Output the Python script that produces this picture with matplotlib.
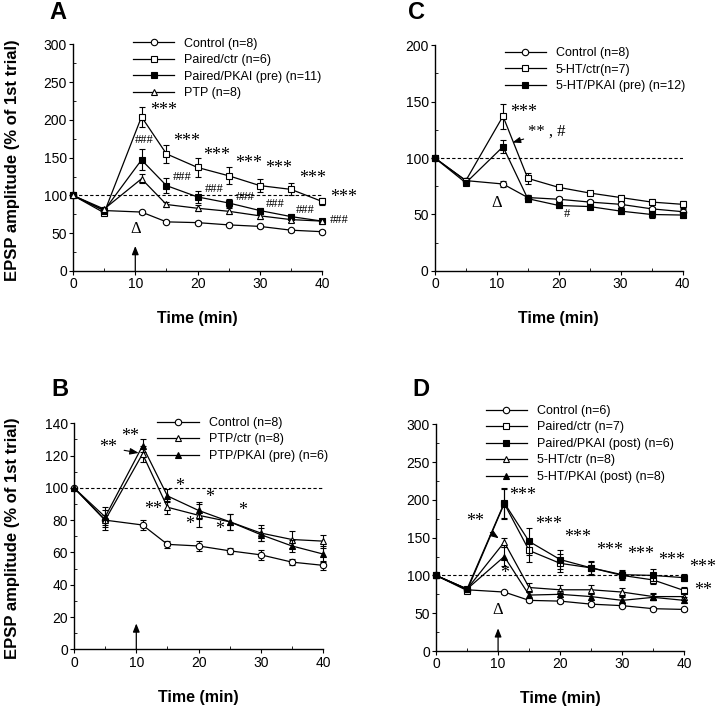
import numpy as np
import matplotlib
matplotlib.use("Agg")
import matplotlib.pyplot as plt
from matplotlib.ticker import MultipleLocator

plt.rcParams['font.family'] = ['Liberation Sans', 'DejaVu Sans']

# sampling times (min)
t = [0, 5, 11, 15, 20, 25, 30, 35, 40]

# Panel A
a_control = [100, 80, 78, 65, 64, 61, 59, 54, 52]
a_control_err = [0, 2, 2, 2, 2, 2, 2, 2, 2]
a_paired_ctr = [100, 77, 204, 155, 137, 126, 113, 108, 92]
a_paired_ctr_err = [0, 3, 13, 12, 12, 11, 9, 8, 5]
a_paired_pkai = [100, 80, 147, 113, 98, 90, 80, 72, 66]
a_paired_pkai_err = [0, 3, 14, 10, 8, 5, 4, 3, 3]
a_ptp = [100, 82, 122, 88, 83, 79, 73, 68, 66]
a_ptp_err = [0, 3, 6, 3, 4, 4, 4, 3, 3]

# Panel B
b_control = [100, 80, 77, 65, 64, 61, 58.5, 54, 52]
b_control_err = [0, 3, 3, 2, 3, 2, 3, 2, 3]
b_ptp_ctr = [100, 80, 121, 88, 83, 79, 72, 68, 67]
b_ptp_ctr_err = [0, 6, 5, 4, 7, 5, 5, 5, 4]
b_ptp_pkai = [100, 82, 126, 95, 86, 79, 71, 64, 59]
b_ptp_pkai_err = [0, 6, 4, 4, 5, 5, 4, 4, 5]

# Panel C
c_control = [100, 80, 77, 65, 63.5, 61, 59, 55, 52.5]
c_control_err = [0, 2, 3, 2, 2, 2, 2, 2, 2]
c_5ht_ctr = [100, 80, 137, 82, 74, 69, 65, 61, 59]
c_5ht_ctr_err = [0, 2, 11, 5, 2, 2, 2, 3, 3]
c_5ht_pkai = [100, 78, 110, 64, 58, 57, 53, 50, 49.5]
c_5ht_pkai_err = [0, 2, 6, 3, 2, 2, 3, 3, 3]

# Panel D
d_control = [100, 81, 78, 67, 66, 62, 60, 56, 55]
d_control_err = [0, 2, 2, 2, 2, 2, 2, 2, 2]
d_paired_ctr = [100, 80, 195, 133, 116, 110, 100, 94, 80]
d_paired_ctr_err = [0, 3, 20, 15, 12, 8, 6, 6, 5]
d_paired_pkai = [100, 82, 196, 145, 121, 110, 101, 100, 97]
d_paired_pkai_err = [0, 3, 20, 18, 13, 9, 6, 8, 5]
d_5ht_ctr = [100, 82, 144, 84, 81, 81, 78, 72, 72]
d_5ht_ctr_err = [0, 3, 6, 6, 6, 6, 5, 5, 5]
d_5ht_pkai = [100, 82, 125, 74, 75, 72, 67, 71, 67]
d_5ht_pkai_err = [0, 3, 12, 4, 4, 4, 4, 4, 4]

# marker styles: (marker, facecolor)
STY = {
    'circ': ('o', 'white'),
    'sq_open': ('s', 'white'),
    'sq_fill': ('s', 'black'),
    'tri_open': ('^', 'white'),
    'tri_fill': ('^', 'black'),
}

SERIF = ['Liberation Serif', 'DejaVu Serif']

fig = plt.figure(figsize=(7.2, 7.09), dpi=100)
axA = fig.add_axes([0.1014, 0.6178, 0.346, 0.3197])
axC = fig.add_axes([0.6040, 0.6178, 0.344, 0.3187])
axB = fig.add_axes([0.1028, 0.0842, 0.346, 0.3188])
axD = fig.add_axes([0.6056, 0.0818, 0.3447, 0.3198])


def series(ax, y, err, style, label, z):
    m, fc = STY[style]
    ms = 4.8 if m == 's' else 4.6
    eb = ax.errorbar(t, y, yerr=err, color='black', lw=0.9, marker=m, ms=ms,
                     mfc=fc, mec='black', mew=0.8, elinewidth=0.8, capsize=2,
                     capthick=0.8, clip_on=False, zorder=z)
    for a in eb.lines[1] + eb.lines[2]:
        a.set_clip_on(False)
    eb.lines[0].set_label(label)
    return eb.lines[0]


def style_axes(ax, ymax, ymaj, ymin):
    ax.set_xlim(0, 40)
    ax.set_ylim(0, ymax)
    for s in ['top', 'right']:
        ax.spines[s].set_visible(False)
    for s in ['left', 'bottom']:
        ax.spines[s].set_linewidth(1.0)
    ax.xaxis.set_major_locator(MultipleLocator(10))
    ax.xaxis.set_minor_locator(MultipleLocator(5))
    ax.yaxis.set_major_locator(MultipleLocator(ymaj))
    ax.yaxis.set_minor_locator(MultipleLocator(ymin))
    ax.tick_params(which='major', direction='out', length=3, width=0.8,
                   labelsize=10, pad=1.5)
    ax.tick_params(which='minor', direction='in', length=2, width=0.6)
    ax.axhline(100, color='black', lw=0.8, ls=(0, (3, 2)), zorder=1)
    ax.set_xlabel('Time (min)', fontsize=11.5, fontweight='bold')
    ax.xaxis.set_label_coords(0.5, -0.178)


def legend(ax, handles, x, y):
    ax.legend(handles=handles, loc='upper left', bbox_to_anchor=(x, y),
              frameon=False, fontsize=9, numpoints=1, handlelength=3.3,
              handletextpad=0.8, labelspacing=0.36, borderaxespad=0,
              borderpad=0)


def stars(ax, items, size, family=SERIF):
    for x, y, s in items:
        ax.text(x, y, s, fontsize=size, family=family, ha='center',
                va='center', clip_on=False)


def stim_arrow(ax, top):
    ax.annotate('', xy=(10, top), xytext=(10, 0),
                arrowprops=dict(arrowstyle='-|>,head_length=0.5,head_width=0.2',
                                color='black', lw=0.9, shrinkA=0, shrinkB=0))


# ---- A ----
style_axes(axA, 300, 50, 25)
h = [series(axA, a_control, a_control_err, 'circ', 'Control (n=8)', 4),
     series(axA, a_paired_ctr, a_paired_ctr_err, 'sq_open', 'Paired/ctr (n=6)', 5),
     series(axA, a_paired_pkai, a_paired_pkai_err, 'sq_fill', 'Paired/PKAI (pre) (n=11)', 6),
     series(axA, a_ptp, a_ptp_err, 'tri_open', 'PTP (n=8)', 7)]
legend(axA, h, 0.241, 1.03)
stars(axA, [(14.5, 212, '***'), (18.3, 172, '***'), (23.1, 153, '***'),
            (28.2, 142, '***'), (33.0, 135, '***'), (38.4, 122, '***'),
            (43.5, 97, '***')], 13)
stars(axA, [(11.4, 173, '###'), (17.5, 124, '###'), (22.6, 108, '###'),
            (27.7, 98, '###'), (32.5, 89, '###'), (37.3, 81, '###'),
            (42.8, 68, '###')], 9)
axA.text(10, 56, '\u0394', fontsize=12, family=SERIF, ha='center', va='center')
stim_arrow(axA, 33)
axA.set_ylabel('EPSP amplitude (% of 1st trial)', fontsize=12, fontweight='bold')
axA.yaxis.set_label_coords(-0.214, 0.49)

# ---- C ----
style_axes(axC, 200, 50, 25)
h = [series(axC, c_control, c_control_err, 'circ', 'Control (n=8)', 4),
     series(axC, c_5ht_ctr, c_5ht_ctr_err, 'sq_open', '5-HT/ctr(n=7)', 5),
     series(axC, c_5ht_pkai, c_5ht_pkai_err, 'sq_fill', '5-HT/PKAI (pre) (n=12)', 6)]
legend(axC, h, 0.282, 0.99)
stars(axC, [(14.3, 140, '***')], 13)
axC.annotate('** , #', xy=(12.1, 113), xytext=(15.0, 123), fontsize=12,
             family=SERIF, ha='left', va='center',
             arrowprops=dict(arrowstyle='-|>,head_length=0.4,head_width=0.15',
                             color='black', lw=0.8, shrinkA=1, shrinkB=2))
stars(axC, [(21.3, 50, '#')], 9)
axC.text(10, 60, '\u0394', fontsize=12, family=SERIF, ha='center', va='center')

# ---- B ----
style_axes(axB, 140, 20, 10)
h = [series(axB, b_control, b_control_err, 'circ', 'Control (n=8)', 4),
     series(axB, b_ptp_ctr, b_ptp_ctr_err, 'tri_open', 'PTP/ctr (n=8)', 5),
     series(axB, b_ptp_pkai, b_ptp_pkai_err, 'tri_fill', 'PTP/PKAI (pre) (n=6)', 6)]
legend(axB, h, 0.335, 1.028)
stars(axB, [(9.0, 132, '**'), (16.9, 101, '*'), (12.7, 86.5, '**'),
            (21.8, 94, '*'), (18.5, 77, '*'), (27.0, 86, '*'),
            (23.4, 74, '*')], 13)
axB.annotate('**', xy=(10.6, 121.5), xytext=(5.5, 125), fontsize=13,
             family=SERIF, ha='center', va='center',
             arrowprops=dict(arrowstyle='-|>,head_length=0.4,head_width=0.15',
                             color='black', lw=0.8, shrinkA=3, shrinkB=1))
stim_arrow(axB, 16)
axB.set_ylabel('EPSP amplitude (% of 1st trial)', fontsize=12, fontweight='bold')
axB.yaxis.set_label_coords(-0.218, 0.49)

# ---- D ----
style_axes(axD, 300, 50, 25)
h = [series(axD, d_control, d_control_err, 'circ', 'Control (n=6)', 4),
     series(axD, d_paired_ctr, d_paired_ctr_err, 'sq_open', 'Paired/ctr (n=7)', 5),
     series(axD, d_paired_pkai, d_paired_pkai_err, 'sq_fill', 'Paired/PKAI (post) (n=6)', 6),
     series(axD, d_5ht_ctr, d_5ht_ctr_err, 'tri_open', '5-HT/ctr (n=8)', 7),
     series(axD, d_5ht_pkai, d_5ht_pkai_err, 'tri_fill', '5-HT/PKAI (post) (n=8)', 8)]
legend(axD, h, 0.20, 1.085)
stars(axD, [(14.0, 206, '***'), (18.2, 167, '***'), (22.9, 150, '***'),
            (27.9, 133, '***'), (32.9, 128, '***'), (37.9, 120, '***'),
            (43.0, 110, '***'), (43.0, 80, '**'), (11.0, 103, '*')], 13)
axD.annotate('**', xy=(10.3, 148), xytext=(6.3, 171), fontsize=13,
             family=SERIF, ha='center', va='center',
             arrowprops=dict(arrowstyle='-|>,head_length=0.4,head_width=0.15',
                             color='black', lw=0.8, shrinkA=3, shrinkB=1))
axD.text(10, 54, '\u0394', fontsize=12, family=SERIF, ha='center', va='center')
stim_arrow(axD, 30)

# panel letters
for x, y, s in [(0.069, 0.982, 'A'), (0.566, 0.982, 'C'),
                (0.072, 0.451, 'B'), (0.573, 0.451, 'D')]:
    fig.text(x, y, s, fontsize=17, fontweight='bold', ha='left', va='center')

fig.savefig('out.png', dpi=100)
